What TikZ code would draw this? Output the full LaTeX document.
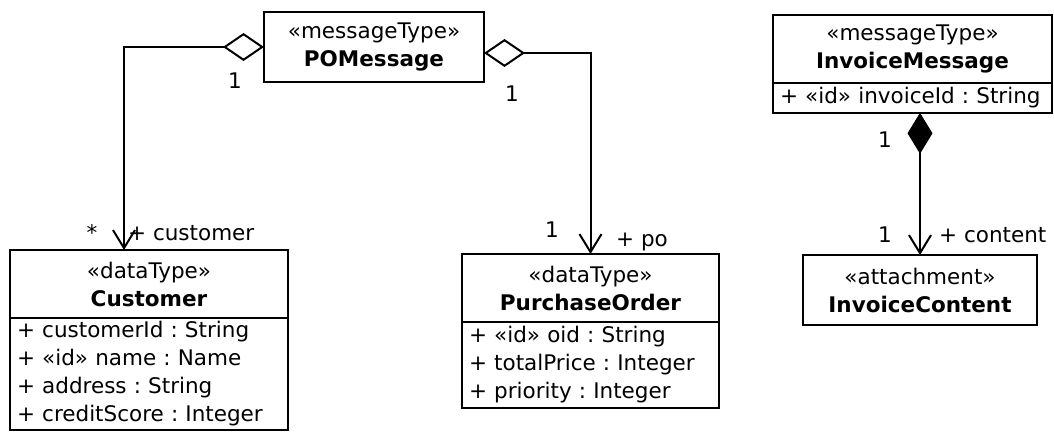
\documentclass[tikz,border=0pt]{standalone}
\usepackage{fontspec}
\setmainfont{DejaVu Sans}
\frenchspacing
\usetikzlibrary{arrows.meta}
\usetikzlibrary{calc}
\tikzset{every node/.style={font=\fontsize{21.5}{28}\selectfont}}
\tikzset{classhead/.style={draw, line width=2pt, align=center, inner sep=0pt, outer sep=0pt}}
\tikzset{classattr/.style={draw, line width=2pt, align=left, anchor=north, inner xsep=7pt, inner ysep=4.5pt, outer sep=0pt}}
\tikzset{assoc/.style={line width=2pt, {Diamond[open,length=41pt,width=28pt]}-{Straight Barb[length=18pt,width=22pt]}}}
\tikzset{compo/.style={line width=2pt, {Diamond[length=41pt,width=25pt]}-{Straight Barb[length=18pt,width=22pt]}}}
\tikzset{mult/.style={anchor=base, inner sep=0pt}}

\begin{document}
\begin{tikzpicture}[x=1pt, y=-1pt]
\useasboundingbox (0,0) rectangle (1054,433);
\node [classhead, minimum width=220pt, minimum height=70pt] (pomsg) at (374,47) {«messageType»\\\textbf{POMessage}};
\node [classhead, minimum width=278pt, minimum height=68pt] (custhead) at (149,284) {«dataType»\\\textbf{Customer}};
\node [classattr, text width=264pt, inner ysep=3.5pt] (custattr) at (custhead.south) {+ customerId : String\\+ «id» name : Name\\+ address : String\\+ creditScore : Integer};
\node [classhead, minimum width=257pt, minimum height=68pt] (pohead) at (590.5,288) {«dataType»\\\textbf{PurchaseOrder}};
\node [classattr, text width=243pt] (poattr) at (pohead.south) {+ «id» oid : String\\+ totalPrice : Integer\\+ priority : Integer};
\node [classhead, minimum width=279pt, minimum height=68pt] (invmsg) at (912.5,49) {«messageType»\\\textbf{InvoiceMessage}};
\node [classattr, text width=265pt] (invattr) at (invmsg.south) {+ «id» invoiceId : String};
\node [classhead, minimum width=234pt, minimum height=70pt] (invcont) at (920,290) {«attachment»\\\textbf{InvoiceContent}};
%Edge
\draw [assoc] (pomsg.west) -| ([xshift=-25pt]custhead.north);
\draw [assoc] ([yshift=-6pt]pomsg.east) -| (pohead.north);
\draw [compo] (invattr.south -| invcont.north) -- (invcont.north);
%Multiplicities
\node [mult] (m1) at (235,89) {1};
\node [mult] (m2) at (92,240) {*};
\node [mult, anchor=base west] (rolecust) at (128,240) {+ customer};
\node [mult] (m3) at (512,102) {1};
\node [mult] (m4) at (552,237) {1};
\node [mult, anchor=base west] (rolepo) at (616,246) {+ po};
\node [mult] (m5) at (885,147) {1};
\node [mult] (m6) at (885,242) {1};
\node [mult, anchor=base west] (rolecont) at (939,242) {+ content};
\end{tikzpicture}
\end{document}
